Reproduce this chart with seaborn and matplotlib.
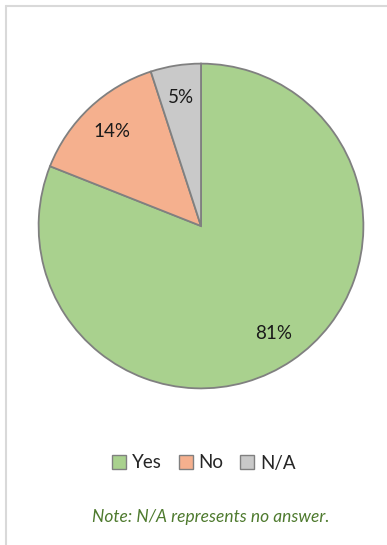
import matplotlib
matplotlib.use("Agg")
import matplotlib.pyplot as plt
import seaborn as sns
from matplotlib.lines import Line2D
from matplotlib.patches import Patch

# Chart data
labels = ["Yes", "No", "N/A"]
shares = [81, 14, 5]
colors = ["#A9D18E", "#F5B08E", "#C9C9C9"]
note = "Note: N/A represents no answer."

sns.set_theme(style="white")
plt.rcParams["font.family"] = ["Lato", "DejaVu Sans"]

fig = plt.figure(figsize=(3.87, 5.45), dpi=100)

# light grey frame, only left and top edges are visible
fx, fy = 5.5 / 387, 1 - 5.5 / 545
fig.lines.append(Line2D([fx, fx], [0, fy], transform=fig.transFigure,
                        color="#D9D9D9", linewidth=1.5))
fig.lines.append(Line2D([fx, 1], [fy, fy], transform=fig.transFigure,
                        color="#D9D9D9", linewidth=1.5))

ax = fig.add_axes([37 / 387, 1 - 390 / 545, 328 / 387, 328 / 545])
wedges, texts, autotexts = ax.pie(
    shares, colors=colors, startangle=90, counterclock=False,
    autopct="%d%%", pctdistance=0.8,
    wedgeprops=dict(edgecolor="#808080", linewidth=1.3),
    textprops=dict(fontsize=13.5, color="#1a1a1a"))
ax.set_xlim(-1.01, 1.01)
ax.set_ylim(-1.01, 1.01)
ax.set_aspect("equal")
ax.axis("off")

handles = [Patch(facecolor=c, edgecolor="#808080", label=l) for c, l in zip(colors, labels)]
fig.legend(handles=handles, loc="center", bbox_to_anchor=(0.527, 1 - 463 / 545),
           ncol=3, frameon=False, fontsize=13.5, handlelength=0.75, handleheight=0.75,
           handletextpad=0.3, columnspacing=0.9)

fig.text(0.545, 1 - 517 / 545, note, ha="center", va="center",
         fontsize=12.5, style="italic", color="#4E7A2E")

fig.savefig("out.png", dpi=100, facecolor="white")
